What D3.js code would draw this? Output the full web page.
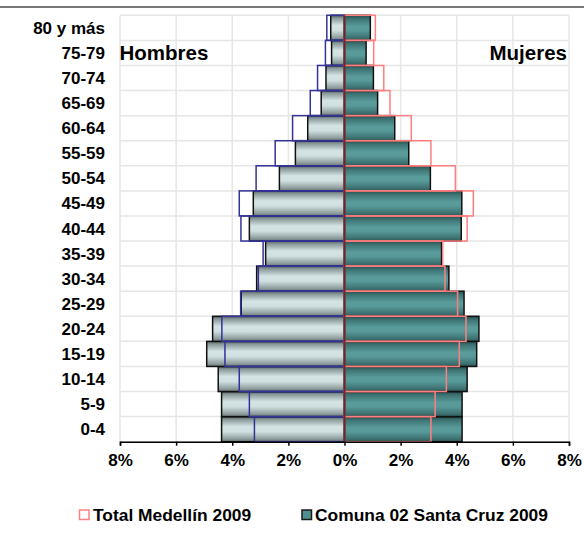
<!DOCTYPE html>
<html>
<head>
<meta charset="utf-8">
<script src="https://cdn.jsdelivr.net/npm/d3@7"></script>
<style>
html,body{margin:0;padding:0;background:#fff;}
svg text{font-family:"Liberation Sans",Arial,sans-serif;font-weight:bold;fill:#000;}
</style>
</head>
<body>
<svg id="chart" width="584" height="538"></svg>
<script>
// Data (bottom age group first)
const categories = ["0-4","5-9","10-14","15-19","20-24","25-29","30-34","35-39","40-44","45-49","50-54","55-59","60-64","65-69","70-74","75-79","80 y más"];
const comunaHombres   = [4.38,4.38,4.50,4.91,4.70,3.68,3.13,2.81,3.39,3.25,2.32,1.75,1.31,0.83,0.66,0.46,0.49];
const medellinHombres = [3.21,3.39,3.75,4.26,4.37,3.70,3.07,2.90,3.69,3.75,3.15,2.47,1.85,1.22,0.96,0.68,0.63];
const comunaMujeres   = [4.19,4.19,4.37,4.71,4.79,4.26,3.72,3.46,4.16,4.18,3.06,2.29,1.79,1.18,1.03,0.77,0.92];
const medellinMujeres = [3.08,3.23,3.63,4.09,4.33,4.03,3.58,3.50,4.37,4.59,3.95,3.08,2.38,1.62,1.40,1.04,1.10];
const xTicks = [-8,-6,-4,-2,0,2,4,6,8];
const legendLabels = ["Total Medellín 2009","Comuna 02 Santa Cruz 2009"];
const sideLabels = ["Hombres","Mujeres"];

const svg = d3.select("#chart");
const x = d3.scaleLinear().domain([-8,8]).range([120,569]);
const y = d3.scaleBand().domain(categories.slice().reverse()).range([15.3,441.7]).padding(0);

// top border line
svg.append("line").attr("x1",0).attr("x2",584).attr("y1",7).attr("y2",7)
  .attr("stroke","#4a4a4a").attr("stroke-width",1.5);

// gradients
const defs = svg.append("defs");
const gM = defs.append("linearGradient").attr("id","gMale").attr("x1",0).attr("x2",0).attr("y1",0).attr("y2",1);
[[0,"#566262"],[0.12,"#8a9a9a"],[0.4,"#d4e4e4"],[0.6,"#d0e0e0"],[0.88,"#909e9e"],[1,"#6a7676"]]
  .forEach(s=>gM.append("stop").attr("offset",s[0]).attr("stop-color",s[1]));
const gF = defs.append("linearGradient").attr("id","gFemale").attr("x1",0).attr("x2",0).attr("y1",0).attr("y2",1);
[[0,"#284e4e"],[0.15,"#3e7474"],[0.45,"#5a9c9c"],[0.6,"#589a9a"],[0.88,"#3e7272"],[1,"#2e5858"]]
  .forEach(s=>gF.append("stop").attr("offset",s[0]).attr("stop-color",s[1]));

// grid
const grid = svg.append("g");
grid.selectAll("line.v").data(xTicks).join("line")
  .attr("x1",d=>x(d)).attr("x2",d=>x(d)).attr("y1",y.range()[0]).attr("y2",y.range()[1])
  .attr("stroke","#e6e6e6").attr("stroke-width",1.5);
const hLines = categories.map(c=>y(c)).concat([y.range()[1]]);
grid.selectAll("line.h").data(hLines).join("line")
  .attr("x1",x(-8)).attr("x2",x(8)).attr("y1",d=>d).attr("y2",d=>d)
  .attr("stroke","#e6e6e6").attr("stroke-width",1.5);

// comuna bars
const bars = svg.append("g");
bars.selectAll("rect.cm").data(categories).join("rect")
  .attr("x",(c,i)=>x(-comunaHombres[i])).attr("width",(c,i)=>x(0)-x(-comunaHombres[i]))
  .attr("y",c=>y(c)).attr("height",y.bandwidth())
  .attr("fill","url(#gMale)").attr("stroke","#111").attr("stroke-width",1.5);
bars.selectAll("rect.cf").data(categories).join("rect")
  .attr("x",x(0)).attr("width",(c,i)=>x(comunaMujeres[i])-x(0))
  .attr("y",c=>y(c)).attr("height",y.bandwidth())
  .attr("fill","url(#gFemale)").attr("stroke","#111").attr("stroke-width",1.5);

// medellin outlines
const outl = svg.append("g");
outl.selectAll("rect.mm").data(categories).join("rect")
  .attr("x",(c,i)=>x(-medellinHombres[i])).attr("width",(c,i)=>x(0)-x(-medellinHombres[i]))
  .attr("y",c=>y(c)).attr("height",y.bandwidth())
  .attr("fill","none").attr("stroke","#333399").attr("stroke-width",1.5);
outl.selectAll("rect.mf").data(categories).join("rect")
  .attr("x",x(0)).attr("width",(c,i)=>x(medellinMujeres[i])-x(0))
  .attr("y",c=>y(c)).attr("height",y.bandwidth())
  .attr("fill","none").attr("stroke","#ff7f7f").attr("stroke-width",1.5);

// center axis line
svg.append("line").attr("x1",x(0)).attr("x2",x(0)).attr("y1",y.range()[0]).attr("y2",y.range()[1])
  .attr("stroke","#6a2a2a").attr("stroke-width",2);

// x axis
const xAxis = svg.append("g").attr("transform",`translate(0,${y.range()[1]})`)
  .call(d3.axisBottom(x).tickValues(xTicks).tickSize(4).tickPadding(8).tickFormat(d=>Math.abs(d)+"%"));
xAxis.select(".domain").attr("stroke","#000").attr("stroke-width",1.5);
xAxis.selectAll(".tick line").attr("stroke","#000").attr("stroke-width",1.5);
xAxis.selectAll(".tick text").style("font-size","17px").attr("dy","0.71em").attr("fill","#000")
  .style("font-family","'Liberation Sans',Arial,sans-serif").style("font-weight","bold");

// category labels
svg.append("g").selectAll("text").data(categories).join("text")
  .attr("x",105).attr("y",c=>y(c)+y.bandwidth()/2+6)
  .attr("text-anchor","end").style("font-size","17px").text(c=>c);

// side labels
svg.append("text").attr("x",119.5).attr("y",60).style("font-size","20.5px").text(sideLabels[0]);
svg.append("text").attr("x",567).attr("y",60).attr("text-anchor","end").style("font-size","20.5px").text(sideLabels[1]);

// legend
const leg = svg.append("g");
leg.append("rect").attr("x",79.5).attr("y",510).attr("width",9.5).attr("height",9.5)
  .attr("fill","#fff").attr("stroke","#ff8080").attr("stroke-width",1.5);
leg.append("text").attr("x",93).attr("y",520.5).style("font-size","17.4px").text(legendLabels[0]);
leg.append("rect").attr("x",302).attr("y",510).attr("width",9.5).attr("height",9.5)
  .attr("fill","#4f8f8f").attr("stroke","#1a1a1a").attr("stroke-width",1.5);
leg.append("text").attr("x",315).attr("y",520.5).style("font-size","17.4px").text(legendLabels[1]);
</script>
</body>
</html>
